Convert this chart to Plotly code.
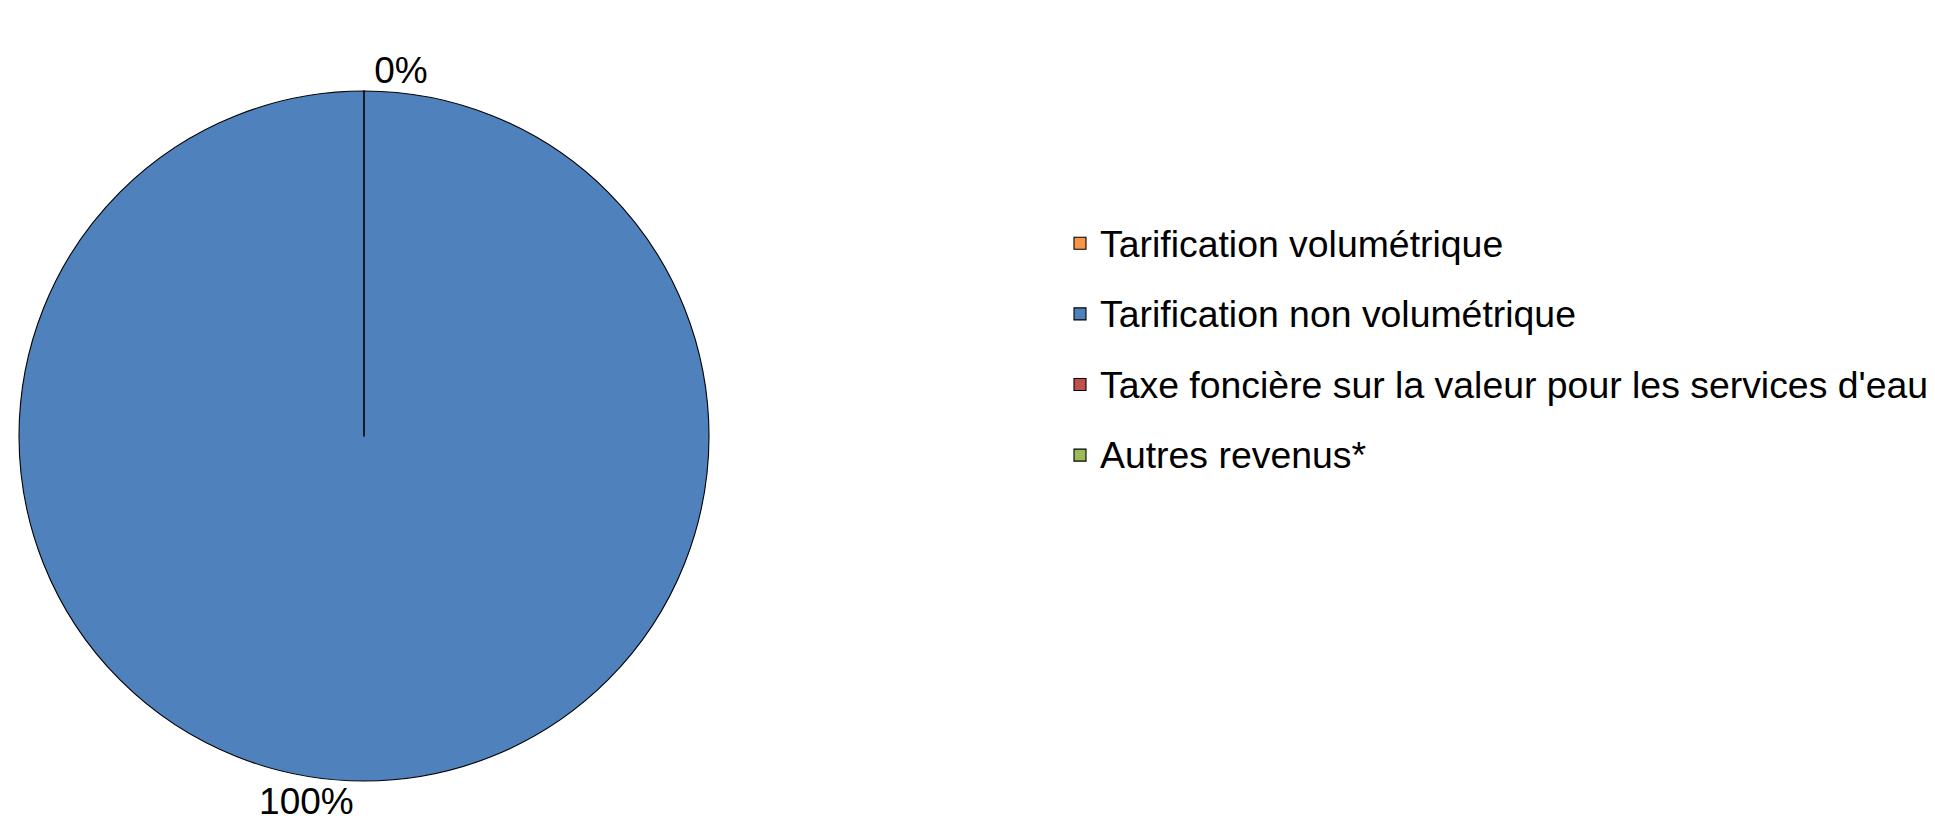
import plotly.graph_objects as go

categories = [
    "Tarification volumétrique",
    "Tarification non volumétrique",
    "Taxe foncière sur la valeur pour les services d'eau",
    "Autres revenus*",
]
values = [0, 100, 0, 0]
colors = ["#F79646", "#4F81BD", "#C0504D", "#9BBB59"]
# only one label is visible for the overlapping zero slices
label_templates = ["%{percent:.0%}", "%{percent:.0%}", "", ""]

W, H = 1935, 830
FONT = "Liberation Sans, Arial, sans-serif"

legend_labels = [
    "<span style='font-size:37.4px;baseline-shift:7px'>" + c + "</span>" for c in categories
]

fig = go.Figure(
    go.Pie(
        labels=legend_labels,
        values=values,
        sort=False,
        direction="clockwise",
        rotation=0,
        marker=dict(colors=colors, line=dict(color="#000000", width=1.1)),
        texttemplate=label_templates,
        textposition="outside",
        textfont=dict(family=FONT, size=37, color="#000000"),
        showlegend=True,
        domain=dict(x=[11 / W, 701 / W], y=[(H - 773) / H, (H - 83) / H]),
        hovertemplate="%{label}: %{percent:.0%}<extra></extra>",
    )
)

fig.update_layout(
    width=W,
    height=H,
    margin=dict(l=0, r=0, t=0, b=0),
    paper_bgcolor="#FFFFFF",
    plot_bgcolor="#FFFFFF",
    font=dict(family=FONT, color="#000000"),
    legend=dict(
        x=1052 / W,
        y=(H - 195) / H,
        xanchor="left",
        yanchor="top",
        font=dict(family=FONT, size=52, color="#000000"),
        itemwidth=30,
        traceorder="normal",
        bgcolor="rgba(0,0,0,0)",
    ),
)

fig.write_html("out.html")
